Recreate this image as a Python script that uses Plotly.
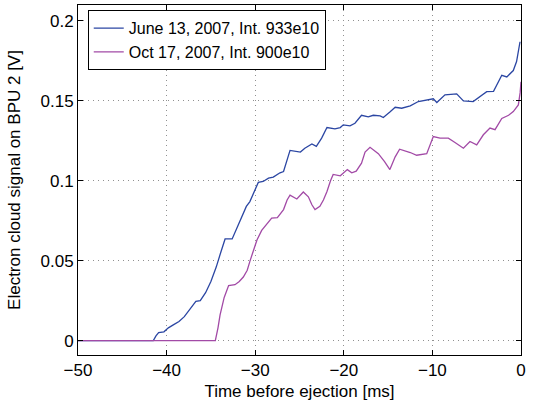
import plotly.graph_objects as go

# June 13, 2007, Int. 933e10
june_t = [-50, -41.5, -41.2, -40.9, -40.3, -39.8, -39.2, -38.6, -38.0, -37.3, -36.7, -36.2, -35.6, -35.0,
          -34.4, -33.9, -33.4, -32.6, -32.0, -31.5, -31.0, -30.6, -30.1, -29.65, -29.1, -28.5, -27.96,
          -27.2, -26.8, -26.4, -26.07, -24.9, -24.4, -23.6, -23.1, -22.5, -21.9, -21.0, -20.4, -20.06,
          -19.3, -18.74, -18.0, -17.24, -16.67, -15.9, -15.54, -14.8, -14.2, -13.47, -12.5, -11.59,
          -10.64, -9.9, -9.5, -8.58, -7.26, -6.5, -5.4, -4.6, -3.87, -3.1, -2.6, -2.17, -1.6, -0.87,
          -0.5, -0.11]
june_v = [0, 0, 0.003, 0.005, 0.0055, 0.008, 0.010, 0.012, 0.015, 0.020, 0.0245, 0.025, 0.030, 0.037,
          0.046, 0.055, 0.0636, 0.0636, 0.071, 0.078, 0.084, 0.087, 0.093, 0.099, 0.0996, 0.1017, 0.1023,
          0.105, 0.1058, 0.113, 0.119, 0.118, 0.1204, 0.123, 0.1215, 0.1267, 0.1333, 0.1325, 0.1333, 0.135,
          0.1344, 0.136, 0.141, 0.140, 0.141, 0.1406, 0.1396, 0.143, 0.146, 0.1454, 0.1469, 0.1496,
          0.1506, 0.1513, 0.149, 0.1538, 0.1544, 0.150, 0.1496, 0.153, 0.1558, 0.156, 0.161, 0.166, 0.165, 0.169,
          0.1746, 0.187]

# Oct 17, 2007, Int. 900e10
oct_t = [-50, -34.5, -34.2, -33.97, -33.5, -33.0, -32.28, -31.8, -31.34, -30.9, -30.6, -30.2, -29.8,
         -29.27, -28.7, -28.14, -27.5, -26.8, -26.4, -26.07, -25.3, -24.57, -24.0, -23.6, -23.25, -22.7,
         -22.3, -21.9, -21.5, -21.2, -20.4, -19.6, -19.1, -18.6, -18.0, -17.6, -17.04, -16.1, -15.4,
         -14.8, -14.2, -13.7, -12.5, -11.78, -10.64, -10.2, -9.9, -9.14, -8.2, -7.45, -6.5, -5.76, -5.0,
         -4.25, -3.5, -2.93, -2.17, -1.4, -0.87, -0.3, -0.1, 0]
oct_v = [0, 0, 0.008, 0.016, 0.027, 0.0344, 0.035, 0.037, 0.0398, 0.044, 0.0496, 0.056, 0.063,
         0.069, 0.073, 0.0767, 0.077, 0.082, 0.088, 0.091, 0.0886, 0.093, 0.090, 0.085, 0.082, 0.084,
         0.088, 0.0933, 0.100, 0.104, 0.1031, 0.107, 0.105, 0.1060, 0.111, 0.118, 0.121, 0.117, 0.112,
         0.107, 0.115, 0.1198, 0.1177, 0.116, 0.117, 0.123, 0.1277, 0.1267, 0.1267, 0.124, 0.1204, 0.1246, 0.1225,
         0.1288, 0.133, 0.132, 0.139, 0.141, 0.1433, 0.1475, 0.155, 0.162]

x_ticks = [-50, -40, -30, -20, -10, 0]
y_ticks = [0, 0.05, 0.1, 0.15, 0.2]
y_tick_labels = ["0", "0.05", "0.1", "0.15", "0.2"]

fig = go.Figure()
fig.add_trace(go.Scatter(x=june_t, y=june_v, mode="lines", name="June 13, 2007, Int. 933e10",
                         line=dict(color="#2b46a3", width=1.3)))
fig.add_trace(go.Scatter(x=oct_t, y=oct_v, mode="lines", name="Oct 17, 2007, Int. 900e10",
                         line=dict(color="#a24aa6", width=1.3)))

axis_common = dict(showline=True, linecolor="black", linewidth=1, mirror="ticks", ticks="inside",
                   ticklen=5, tickcolor="black", showgrid=True, gridcolor="#909090", griddash="1px,4px",
                   gridwidth=1, zeroline=False, automargin=False,
                   tickfont=dict(size=17, color="black"))

fig.update_layout(
    width=534, height=401,
    margin=dict(l=78, r=13, t=5, b=46, autoexpand=False),
    paper_bgcolor="white", plot_bgcolor="white",
    font=dict(family="Liberation Sans, Arial, sans-serif", size=17, color="black"),
    xaxis=dict(range=[-50, 0], tickvals=x_ticks,
               title=dict(text="Time before ejection [ms]", font=dict(size=17)),
               **axis_common),
    yaxis=dict(range=[-0.009, 0.21], tickvals=y_ticks, ticktext=y_tick_labels,
               title=dict(text="Electron cloud signal on BPU 2 [V]", font=dict(size=17)),
               **axis_common),
    legend=dict(x=0.022, y=0.985, xanchor="left", yanchor="top", bgcolor="white",
                bordercolor="black", borderwidth=1, font=dict(size=16), tracegroupgap=0,
                itemwidth=30),
    showlegend=True,
)

fig.write_html("out.html", config={"displayModeBar": False},
               post_script="document.body.style.margin='0px';")
